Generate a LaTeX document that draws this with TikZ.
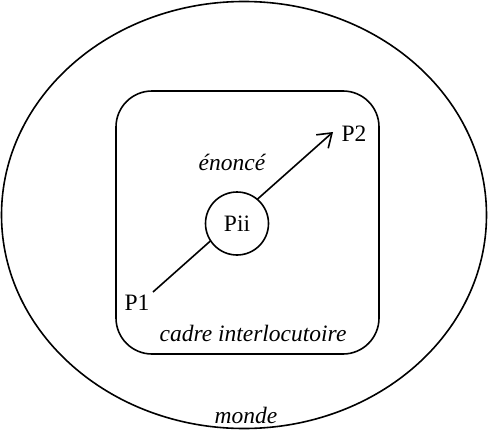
\documentclass[tikz,border=0pt]{standalone}
\usepackage{fontspec}
\setmainfont{Liberation Serif}
\usetikzlibrary{arrows.meta}
\tikzset{
  lbl/.style={font=\fontsize{23.5}{27}\selectfont, inner sep=0pt},
  ilbl/.style={font=\fontsize{23.5}{27}\selectfont\itshape, inner sep=0pt},
  ln/.style={line width=1.6pt},
}
\begin{document}
\begin{tikzpicture}[x=1pt,y=-1pt]
\useasboundingbox (0,0) rectangle (488,431);
\draw[ln] (244,215) ellipse [x radius=242.5, y radius=213.5];
\node[ln, draw, rounded corners=36pt, minimum width=263pt, minimum height=263pt, inner sep=0pt] (cadre) at (247.5,222.5) {};
\coordinate (s) at (153,292);
\coordinate (e) at (333,132);
\draw[ln, -{Straight Barb[length=13pt, width=18pt, line width=1.6pt]}] (s) -- (e);
\node[ln, draw, circle, fill=white, minimum size=63pt, inner sep=0pt, lbl] (pii) at (237,223.5) {Pii};
\node[lbl] (p1) at (137,303) {P1};
\node[lbl] (p2) at (354,134) {P2};
\node[ilbl] (enonce) at (232,162) {énoncé};
\node[ilbl] (ci) at (253,333) {cadre interlocutoire};
\node[ilbl] (monde) at (246,415) {monde};
\end{tikzpicture}
\end{document}
